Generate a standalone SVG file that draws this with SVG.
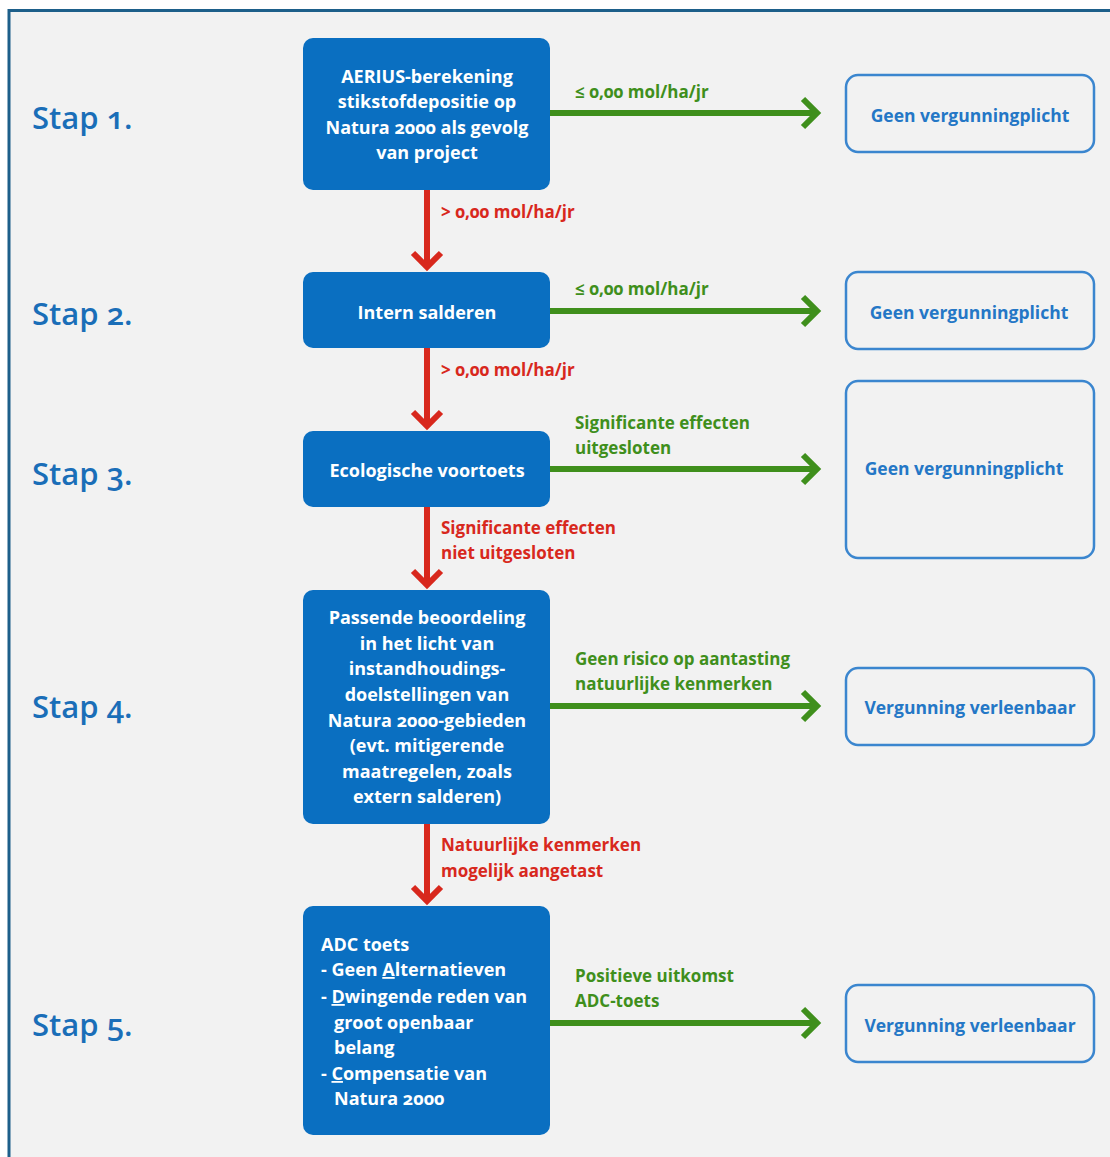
<svg xmlns="http://www.w3.org/2000/svg" width="1110" height="1157" viewBox="0 0 1110 1157">
<defs>
<style>
.bg{fill:#f2f2f2}
.frame{fill:none;stroke:#1d5f8a;stroke-width:3}
.box{fill:#0a6fc1}
.out{fill:#f2f2f2;stroke:#3b86cf;stroke-width:2.5}
.bt{font-family:"Open Sans","Noto Sans",sans-serif;font-weight:700;font-size:18px;fill:#ffffff;text-anchor:middle;font-variant-numeric:oldstyle-nums}
.btl{text-anchor:start}
.ot{font-family:"Open Sans","Noto Sans",sans-serif;font-weight:700;font-size:17.5px;fill:#2477c6;text-anchor:middle}
.gl{font-family:"Open Sans","Noto Sans",sans-serif;font-weight:700;font-size:17px;fill:#3f8f1c;font-variant-numeric:oldstyle-nums}
.rl{font-family:"Open Sans","Noto Sans",sans-serif;font-weight:700;font-size:17px;fill:#d8281d;font-variant-numeric:oldstyle-nums}
.stap{font-family:"Open Sans","Noto Sans",sans-serif;font-weight:600;font-size:31px;fill:#1a6eb8;font-variant-numeric:oldstyle-nums}
.g{stroke:#3f8f1c;stroke-width:6;fill:none}
.r{stroke:#d8281d;stroke-width:6;fill:none}
</style>
<marker id="ag" markerUnits="userSpaceOnUse" viewBox="-20 -20 30 40" markerWidth="30" markerHeight="40" refX="0" refY="0" orient="auto">
<path d="M-14 -14 L0 0 L-14 14" fill="none" stroke="#3f8f1c" stroke-width="6"/>
</marker>
<marker id="ar" markerUnits="userSpaceOnUse" viewBox="-20 -20 30 40" markerWidth="30" markerHeight="40" refX="0" refY="0" orient="auto">
<path d="M-14 -14 L0 0 L-14 14" fill="none" stroke="#d8281d" stroke-width="6"/>
</marker>
</defs>
<rect x="0" y="0" width="1110" height="1157" fill="#ffffff"/>
<rect class="bg" x="9" y="10" width="1101" height="1147"/>
<path class="frame" d="M9 1157 L9 10.5 L1110 10.5"/>

<g id="stap-labels">
<text class="stap" x="32" y="129">Stap 1.</text>
<text class="stap" x="32" y="325">Stap 2.</text>
<text class="stap" x="32" y="485">Stap 3.</text>
<text class="stap" x="32" y="718">Stap 4.</text>
<text class="stap" x="32" y="1036">Stap 5.</text>
</g>

<g id="connectors">
<line class="g" x1="550" y1="113" x2="817" y2="113" marker-end="url(#ag)"/>
<line class="g" x1="550" y1="311" x2="817" y2="311" marker-end="url(#ag)"/>
<line class="g" x1="550" y1="469" x2="817" y2="469" marker-end="url(#ag)"/>
<line class="g" x1="550" y1="706" x2="817" y2="706" marker-end="url(#ag)"/>
<line class="g" x1="550" y1="1023" x2="817" y2="1023" marker-end="url(#ag)"/>
<line class="r" x1="427" y1="190" x2="427" y2="267" marker-end="url(#ar)"/>
<line class="r" x1="427" y1="348" x2="427" y2="426" marker-end="url(#ar)"/>
<line class="r" x1="427" y1="507" x2="427" y2="585" marker-end="url(#ar)"/>
<line class="r" x1="427" y1="824" x2="427" y2="901" marker-end="url(#ar)"/>
<text class="gl" x="575" y="98">≤ 0,00 mol/ha/jr</text>
<text class="gl" x="575" y="295">≤ 0,00 mol/ha/jr</text>
<text class="gl" x="575" y="429">Significante effecten</text>
<text class="gl" x="575" y="454">uitgesloten</text>
<text class="gl" x="575" y="665">Geen risico op aantasting</text>
<text class="gl" x="575" y="690">natuurlijke kenmerken</text>
<text class="gl" x="575" y="982">Positieve uitkomst</text>
<text class="gl" x="575" y="1007">ADC-toets</text>
<text class="rl" x="441" y="218">&gt; 0,00 mol/ha/jr</text>
<text class="rl" x="441" y="376">&gt; 0,00 mol/ha/jr</text>
<text class="rl" x="441" y="534">Significante effecten</text>
<text class="rl" x="441" y="559">niet uitgesloten</text>
<text class="rl" x="441" y="851">Natuurlijke kenmerken</text>
<text class="rl" x="441" y="877">mogelijk aangetast</text>
</g>

<g id="step1">
<rect class="box" x="303" y="38" width="247" height="152" rx="10"/>
<text class="bt" x="427" y="83">AERIUS-berekening</text>
<text class="bt" x="427" y="108">stikstofdepositie op</text>
<text class="bt" x="427" y="134">Natura 2000 als gevolg</text>
<text class="bt" x="427" y="159">van project</text>
</g>
<g id="step2">
<rect class="box" x="303" y="272" width="247" height="76" rx="10"/>
<text class="bt" x="427" y="319">Intern salderen</text>
</g>
<g id="step3">
<rect class="box" x="303" y="431" width="247" height="76" rx="10"/>
<text class="bt" x="427" y="477">Ecologische voortoets</text>
</g>
<g id="step4">
<rect class="box" x="303" y="590" width="247" height="234" rx="10"/>
<text class="bt" x="427" y="624">Passende beoordeling</text>
<text class="bt" x="427" y="650">in het licht van</text>
<text class="bt" x="427" y="675">instandhoudings-</text>
<text class="bt" x="427" y="701">doelstellingen van</text>
<text class="bt" x="427" y="727">Natura 2000-gebieden</text>
<text class="bt" x="427" y="752">(evt. mitigerende</text>
<text class="bt" x="427" y="778">maatregelen, zoals</text>
<text class="bt" x="427" y="803">extern salderen)</text>
</g>
<g id="step5">
<rect class="box" x="303" y="906" width="247" height="229" rx="10"/>
<text class="bt btl" x="321" y="951">ADC toets</text>
<text class="bt btl" x="321" y="976">- Geen <tspan text-decoration="underline">A</tspan>lternatieven</text>
<text class="bt btl" x="321" y="1003">- <tspan text-decoration="underline">D</tspan>wingende reden van</text>
<text class="bt btl" x="334" y="1029">groot openbaar</text>
<text class="bt btl" x="334" y="1054">belang</text>
<text class="bt btl" x="321" y="1080">- <tspan text-decoration="underline">C</tspan>ompensatie van</text>
<text class="bt btl" x="334" y="1105">Natura 2000</text>
</g>

<g id="result1">
<rect class="out" x="846" y="75" width="248" height="77" rx="12"/>
<text class="ot" x="970" y="122">Geen vergunningplicht</text>
</g>
<g id="result2">
<rect class="out" x="846" y="272" width="248" height="77" rx="12"/>
<text class="ot" x="969" y="319">Geen vergunningplicht</text>
</g>
<g id="result3">
<rect class="out" x="846" y="381" width="248" height="177" rx="12"/>
<text class="ot" x="964" y="475">Geen vergunningplicht</text>
</g>
<g id="result4">
<rect class="out" x="846" y="668" width="248" height="77" rx="12"/>
<text class="ot" x="970" y="714">Vergunning verleenbaar</text>
</g>
<g id="result5">
<rect class="out" x="846" y="985" width="248" height="77" rx="12"/>
<text class="ot" x="970" y="1032">Vergunning verleenbaar</text>
</g>
</svg>
